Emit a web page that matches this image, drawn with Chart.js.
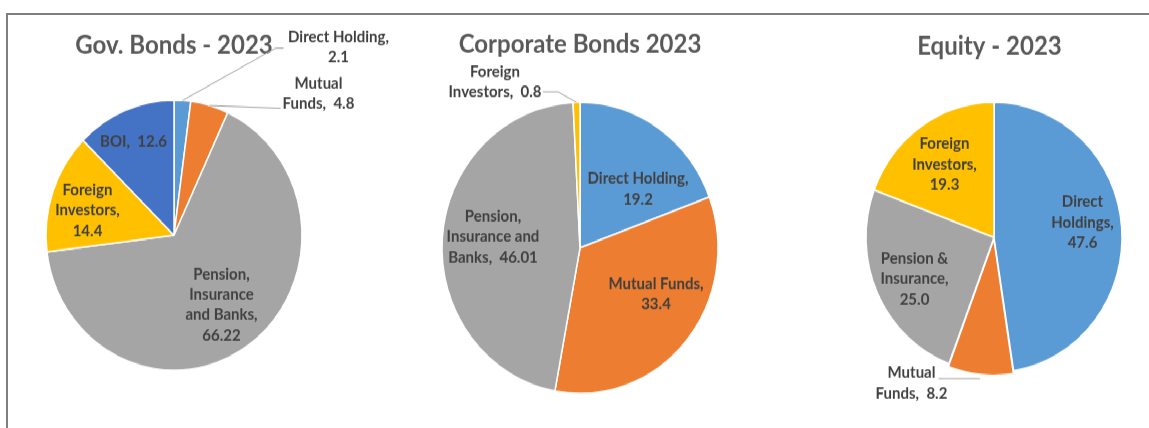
<!DOCTYPE html>
<html>
<head>
<meta charset="utf-8">
<script src="https://cdn.jsdelivr.net/npm/chart.js@4.4.1/dist/chart.umd.min.js"></script>
<style>
  html, body { margin: 0; padding: 0; background: #fff; width: 1149px; height: 428px; overflow: hidden; }
  #frame { position: absolute; left: 6px; top: 13px; width: 1300px; height: 600px;
           border-top: 2px solid #7f7f7f; border-left: 2px solid #7f7f7f; }
  /* the pies are a little taller than wide, so the whole stage is stretched vertically */
  #stage { position: absolute; left: 0; top: 0; width: 1149px; height: 406px;
           transform: scaleY(1.055); transform-origin: 0 0; }
  #stage canvas { position: absolute; }
</style>
</head>
<body>
<div id="frame"></div>
<div id="stage">
  <canvas id="gov" width="480" height="460" style="left:-66.5px; top:-7.3px"></canvas>
  <canvas id="corp" width="480" height="460" style="left:340px; top:5.1px"></canvas>
  <canvas id="equity" width="480" height="460" style="left:753.5px; top:-5.4px"></canvas>
</div>
<script>
// Gov. bonds holders
const govLabels = ['Direct Holding', 'Mutual Funds', 'Pension, Insurance and Banks', 'Foreign Investors', 'BOI']
const govValues = [2.1, 4.8, 66.22, 14.4, 12.6]
const govColors = ['#5B9BD5', '#ED7D31', '#A5A5A5', '#FFC000', '#4472C4']

// Corporate bonds holders
const corpLabels = ['Direct Holding', 'Mutual Funds', 'Pension, Insurance and Banks', 'Foreign Investors']
const corpValues = [19.2, 33.4, 46.01, 0.8]
const corpColors = ['#5B9BD5', '#ED7D31', '#A5A5A5', '#FFC000']

// Equity holders
const eqLabels = ['Direct Holdings', 'Mutual Funds', 'Pension & Insurance', 'Foreign Investors']
const eqValues = [47.6, 8.2, 25.0, 19.3]
const eqColors = ['#5B9BD5', '#ED7D31', '#A5A5A5', '#FFC000']

const FONT = 'Lato, "Open Sans", sans-serif'
const fmt = (v) => { const s = String(v); return s.includes('.') ? s : v.toFixed(1) }

// data label text: name broken over lines, value appended
const buildText = (labels, values, breaks) => labels.map((l, i) => {
    const parts = breaks[i].split('|')
    return parts.map(p => p.replace('{n}', l).replace('{v}', fmt(values[i])))
})

const sliceLabels = {
    id: 'sliceLabels',
    afterDatasetsDraw(chart, args, o) {
        const ctx = chart.ctx
        const arcs = chart.getDatasetMeta(0).data
        const cx = arcs[0].x, cy = arcs[0].y

        ctx.save()
        ctx.fillStyle = '#595959'
        ctx.font = `bold 24px ${FONT}`
        ctx.textAlign = 'center'
        ctx.textBaseline = 'alphabetic'
        ctx.fillText(o.title, cx + o.titlePos[0], cy + o.titlePos[1])

        arcs.forEach((arc, i) => {
            const lead = o.leaders[i]
            if (lead) {
                const mid = (arc.startAngle + arc.endAngle) / 2
                const r = arc.outerRadius + (arc.options.offset || 0)
                ctx.beginPath()
                ctx.moveTo(cx + Math.cos(mid) * r, cy + Math.sin(mid) * r)
                lead.forEach(p => ctx.lineTo(cx + p[0], cy + p[1]))
                ctx.strokeStyle = '#a6a6a6'
                ctx.lineWidth = 1
                ctx.stroke()
            }
            const lines = o.text[i]
            const lh = 19.4
            ctx.fillStyle = '#404040'
            ctx.font = `bold 15px ${FONT}`
            ctx.textBaseline = 'middle'
            const x = cx + o.pos[i][0]
            let y = cy + o.pos[i][1] - (lines.length - 1) * lh / 2
            lines.forEach(t => { ctx.fillText(t, x, y); y += lh })
        })
        ctx.restore()
    }
}

const makePie = (id, labels, values, colors, radius, offsets, labelOpts) => new Chart(document.getElementById(id), {
    type: 'pie',
    data: {
        labels: labels,
        datasets: [{
            data: values,
            backgroundColor: colors,
            borderColor: '#ffffff',
            borderWidth: 1.5,
            offset: offsets,
        }]
    },
    options: {
        responsive: false,
        animation: false,
        events: [],
        radius: radius,
        layout: { padding: 0 },
        plugins: {
            legend: { display: false },
            tooltip: { enabled: false },
            sliceLabels: labelOpts,
        }
    },
    plugins: [sliceLabels],
})

const draw = () => {
    makePie('gov', govLabels, govValues, govColors, 128, 0, {
        title: 'Gov. Bonds - 2023',
        titlePos: [0, -172.5],
        text: buildText(govLabels, govValues,
            ['Direct Holding,|{v}', 'Mutual|Funds,  {v}', 'Pension,|Insurance|and Banks,|{v}', 'Foreign|Investors,|{v}', '{n},  {v}']),
        pos: [[164.5, -178.2], [144.5, -134.1], [47.5, 65.9], [-86.5, -23.7], [-40.5, -89.1]],
        leaders: [[[101.5, -177.3], [109.5, -177.3]], [[106.5, -120.4]], null, null, null],
    })

    makePie('corp', corpLabels, corpValues, corpColors, 138, 0, {
        title: 'Corporate Bonds 2023',
        titlePos: [0, -185.1],
        text: buildText(corpLabels, corpValues,
            ['{n},|{v}', '{n},|{v}', 'Pension,|Insurance and|Banks,  {v}', 'Foreign|Investors,  {v}']),
        pos: [[58, -55.9], [76, 43.6], [-87, -10.4], [-85, -157.3]],
        leaders: [null, null, null, [[-22, -147.9], [-37, -147.9]]],
    })

    makePie('equity', eqLabels, eqValues, eqColors, 128, [0, 7, 0, 0], {
        title: 'Equity - 2023',
        titlePos: [-4.5, -173.5],
        text: buildText(eqLabels, eqValues,
            ['Direct|Holdings,|{v}', 'Mutual|Funds,  {v}', 'Pension &|Insurance,|{v}', 'Foreign|Investors,|{v}']),
        pos: [[88.5, -14.2], [-82.5, 138.3], [-79.5, 39.3], [-49.5, -69.2]],
        leaders: [null, [[-15, 133.9], [-55.5, 133.9]], null, null],
    })
}

Promise.all([
    document.fonts.load(`bold 15px ${FONT}`),
    document.fonts.load(`bold 24px ${FONT}`),
]).then(draw, draw)
</script>
</body>
</html>
